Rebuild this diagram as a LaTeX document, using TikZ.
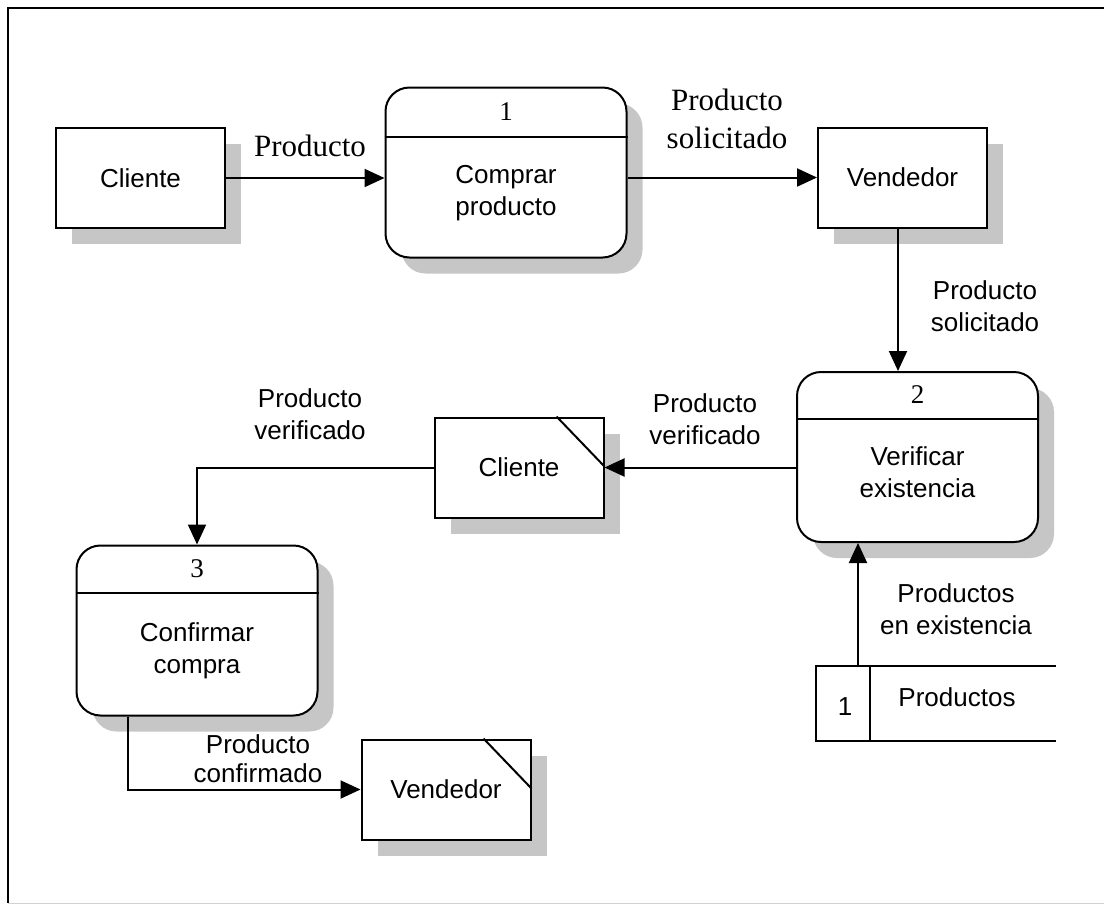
\documentclass[tikz,border=0pt]{standalone}
\usepackage{fontspec}
\setmainfont{Liberation Serif}
\setsansfont{Liberation Sans}
\usetikzlibrary{arrows.meta,shadows}

\begin{document}
\begin{tikzpicture}[x=1pt, y=-1pt, line width=2pt,
  shade/.style={general shadow={fill=gray!45, draw=none, shadow xshift=16pt, shadow yshift=-16pt}},
  ent/.style={draw, fill=white, shade, minimum width=169pt, minimum height=100pt,
    font=\sffamily\fontsize{26}{32}\selectfont},
  proc/.style={draw, fill=white, shade, rounded corners=24pt, minimum width=241pt, minimum height=170pt},
  proctext/.style={align=center, font=\sffamily\fontsize{26}{32}\selectfont},
  num/.style={font=\rmfamily\fontsize{27}{32}\selectfont},
  lbl/.style={align=center, font=\sffamily\fontsize{26}{32}\selectfont},
  lblrm/.style={align=center, font=\rmfamily\fontsize{31}{38}\selectfont},
  flow/.style={-{Triangle[length=20pt,width=18pt]}}]
\useasboundingbox (0,0) rectangle (1104,906);

% frame
\draw (7,8) -- (1104,8);
\draw (8,8) -- (8,903);
\draw[gray!35, line width=1pt] (8,903) -- (1104,903);

% entities
\node[ent] (c1) at (140.5,178) {Cliente};
\node[ent] (v1) at (902.5,177.5) {Vendedor};
\node[ent] (c2) at (519,467.5) {Cliente};
\node[ent] (v2) at (446,789.5) {Vendedor};
\draw ([xshift=-48pt]c2.north east) -- ([yshift=-50pt]c2.north east);
\draw ([xshift=-48pt]v2.north east) -- ([yshift=-50pt]v2.north east);

% processes
\node[proc] (p1) at (506,172.5) {};
\draw ([yshift=-50pt]p1.north west) -- ([yshift=-50pt]p1.north east);
\node[num] (n1) at ([yshift=-25pt]p1.north) {1};
\node[proctext] (t1) at ([yshift=-21pt]p1.center) {Comprar\\producto};

\node[proc] (p2) at (917.5,457) {};
\draw ([yshift=-48pt]p2.north west) -- ([yshift=-48pt]p2.north east);
\node[num] (n2) at ([yshift=-24pt]p2.north) {2};
\node[proctext] (t2) at ([yshift=-15pt]p2.center) {Verificar\\existencia};

\node[proc] (p3) at (197,630.5) {};
\draw ([yshift=-48pt]p3.north west) -- ([yshift=-48pt]p3.north east);
\node[num] (n3) at ([yshift=-24pt]p3.north) {3};
\node[proctext] (t3) at ([yshift=-20pt]p3.center) {Confirmar\\compra};

% data store
\node[minimum width=238pt, minimum height=73pt] (ds) at (936,703.5) {};
\draw (ds.north east) -- (ds.north west) -- (ds.south west) -- (ds.south east);
\draw ([xshift=54pt]ds.north west) -- ([xshift=54pt]ds.south west);
\node[lbl] (dsn) at (845,707) {1};
\node[lbl] (dst) at (957,697) {Productos};
\coordinate (dsout) at ([xshift=42pt]ds.north west);

% flows
\draw[flow] (c1.east) -- (c1.east -| p1.west);
\draw[flow] (p1.east |- v1.west) -- (v1.west);
\draw[flow] ([xshift=-4.5pt]v1.south) -- ([xshift=-4.5pt]v1.south |- p2.north);
\draw[flow] (p2.west |- c2.east) -- (c2.east);
\draw[flow] (c2.west) -| (p3.north);
\draw[flow] ([xshift=-69pt]p3.south) |- (v2.west);
\draw[flow] (dsout) -- (dsout |- p2.south);

% labels
\node[lblrm] (l1) at (310,146) {Producto};
\node[lblrm] (l2) at (727,119) {Producto\\solicitado};
\node[lbl] (l3) at (985,306) {Producto\\solicitado};
\node[lbl] (l4) at (705,419) {Producto\\verificado};
\node[lbl] (l5) at (310,414) {Producto\\verificado};
\node[lbl] (l6) at (956,609) {Productos\\en existencia};
\node[lbl, font=\sffamily\fontsize{26}{29}\selectfont] (l7) at (258,759) {Producto\\confirmado};
\end{tikzpicture}
\end{document}
